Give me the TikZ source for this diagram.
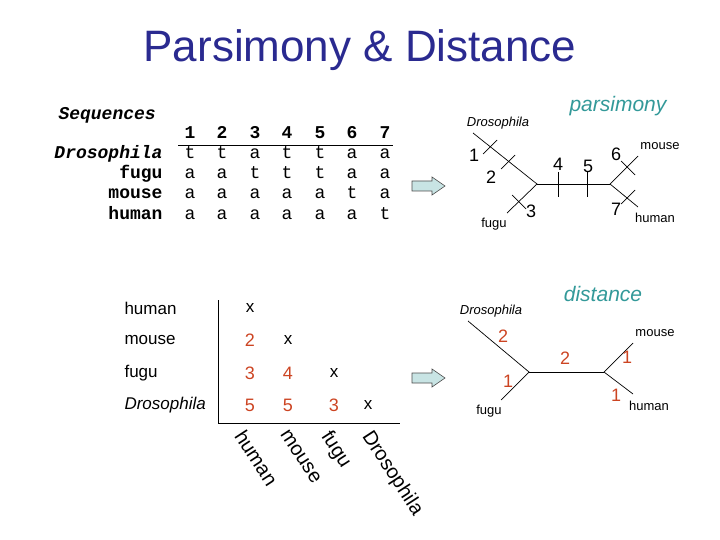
\documentclass[tikz,border=0pt]{standalone}
\usepackage{fontspec}
\setmainfont{Liberation Sans}
\newfontfamily\mono{Liberation Mono}
\definecolor{titleblue}{HTML}{2A2A90}
\definecolor{teal}{HTML}{339999}
\definecolor{dred}{HTML}{CC4422}
\definecolor{acyan}{HTML}{C8E4E4}
\begin{document}
\begin{tikzpicture}[x=1pt,y=-1pt,
  seq/.style={font=\mono\fontsize{18}{18}\selectfont,anchor=base},
  seqb/.style={font=\mono\bfseries\fontsize{18}{18}\selectfont,anchor=base},
  lab/.style={font=\fontsize{17}{17}\selectfont},
  tlab/.style={font=\fontsize{13}{13}\selectfont},
  num/.style={font=\fontsize{18}{18}\selectfont},
  rnum/.style={font=\fontsize{18}{18}\selectfont,text=dred},
  mtx/.style={font=\fontsize{17}{17}\selectfont},
  rot/.style={font=\fontsize{20}{20}\selectfont,rotate=-57,anchor=north west,inner sep=0pt},
  fat/.style={draw=black!70,fill=acyan,line width=0.6pt,line join=miter},
  tick/.style={line width=0.7pt}]
\useasboundingbox (0,0) rectangle (720,540);
\node[font=\fontsize{44}{44}\selectfont,text=titleblue] (title) at (360,50) {Parsimony \& Distance};
% sequences
\node[seqb,font=\mono\bfseries\itshape\fontsize{18}{18}\selectfont,anchor=base west] (seqh) at (55,120) {Sequences};
\node[seqb,font=\mono\bfseries\itshape\fontsize{18}{18}\selectfont,anchor=base east] (rD) at (166,159) {Drosophila};
\node[seqb,anchor=base east] (rf) at (166,179) {fugu};
\node[seqb,anchor=base east] (rm) at (166,199) {mouse};
\node[seqb,anchor=base east] (rh) at (166,219) {human};
\foreach \i/\x/\a/\b/\c/\d in {1/190/t/a/a/a,2/222/t/a/a/a,3/255/a/t/a/a,4/287/t/t/a/a,5/320/t/t/a/a,6/352/a/a/t/a,7/385/a/a/a/t}{
  \node[seqb] (c\i) at (\x,139) {\i};
  \node[seq] (d\i) at (\x,159) {\a};
  \node[seq] (f\i) at (\x,179) {\b};
  \node[seq] (m\i) at (\x,199) {\c};
  \node[seq] (h\i) at (\x,219) {\d};
}
\coordinate (sl1) at (178,145); \coordinate (sl2) at (393,145);
\draw[line width=0.8pt] (sl1) -- (sl2);
% arrows
\foreach \y in {186,378}{
  \draw[fat] (412,\y-5) -- (432,\y-5) -- (432,\y-9) -- (445,\y) -- (432,\y+9) -- (432,\y+5) -- (412,\y+5) -- cycle;
}
% parsimony tree
\node[font=\fontsize{21}{21}\selectfont\itshape,text=teal] (pars) at (618,106) {parsimony};
\node[tlab,font=\itshape\fontsize{13}{13}\selectfont] (pD) at (498,123) {Drosophila};
\node[tlab] (pf) at (494,224) {fugu};
\node[tlab] (pm) at (660,146) {mouse};
\node[tlab] (ph) at (655,218) {human};
\coordinate (pDe) at (473,133); \coordinate (pn1) at (537,184); \coordinate (pfe) at (507,213);
\coordinate (pn2) at (610,184); \coordinate (pme) at (638,156); \coordinate (phe) at (638,207);
\draw[tick] (pDe) -- (pn1) -- (pfe);
\draw[tick] (pn1) -- (pn2);
\draw[tick] (pme) -- (pn2) -- (phe);
\draw[tick] (483,154) -- (497,140);
\draw[tick] (501,169) -- (515,155);
\draw[tick] (512,195) -- (526,209);
\draw[tick] (558,172) -- (558,197);
\draw[tick] (587,172) -- (587,197);
\draw[tick] (621,161) -- (635,175);
\draw[tick] (621,204) -- (635,190);
\node[num] (n1) at (474,155) {1};
\node[num] (n2) at (491,177) {2};
\node[num] (n3) at (531,211) {3};
\node[num] (n4) at (558,164) {4};
\node[num] (n5) at (588,166) {5};
\node[num] (n6) at (616,154) {6};
\node[num] (n7) at (616,209) {7};
% distance matrix
\node[lab,anchor=west] (mh) at (121,308) {human};
\node[lab,anchor=west] (mm) at (121,340) {mouse};
\node[lab,anchor=west] (mf) at (121,373) {fugu};
\node[lab,anchor=west,font=\itshape\fontsize{17}{17}\selectfont] (mD) at (121,405) {Drosophila};
\node[mtx] (x1) at (250,308) {x};
\node[rnum] (v21) at (250,340) {2};
\node[mtx] (x2) at (288,340) {x};
\node[rnum] (v31) at (250,373) {3};
\node[rnum] (v32) at (288,373) {4};
\node[mtx] (x3) at (334,373) {x};
\node[rnum] (v41) at (250,405) {5};
\node[rnum] (v42) at (288,405) {5};
\node[rnum] (v43) at (334,405) {3};
\node[mtx] (x4) at (368,405) {x};
\coordinate (ml1) at (218,300); \coordinate (ml2) at (218,423); \coordinate (ml3) at (400,423);
\draw[line width=0.7pt] (ml1) -- (ml2) -- (ml3);
\node[rot] (lh) at (246,428) {human};
\node[rot] (lm) at (289,428) {mouse};
\node[rot] (lf) at (333,428) {fugu};
\node[rot] (lD) at (374,428) {Drosophila};
% distance tree
\node[font=\fontsize{21}{21}\selectfont\itshape,text=teal] (dist) at (603,294) {distance};
\node[tlab,font=\itshape\fontsize{13}{13}\selectfont] (dD) at (491,311) {Drosophila};
\node[tlab] (df) at (489,411) {fugu};
\node[tlab] (dm) at (655,333) {mouse};
\node[tlab] (dh) at (649,406) {human};
\coordinate (dDe) at (468,321); \coordinate (dn1) at (529,372); \coordinate (dfe) at (501,400);
\coordinate (dn2) at (604,372); \coordinate (dme) at (633,343); \coordinate (dhe) at (633,394);
\draw[tick] (dDe) -- (dn1) -- (dfe);
\draw[tick] (dn1) -- (dn2);
\draw[tick] (dme) -- (dn2) -- (dhe);
\node[rnum] (e1) at (503,336) {2};
\node[rnum] (e2) at (565,358) {2};
\node[rnum] (e3) at (508,381) {1};
\node[rnum] (e4) at (627,357) {1};
\node[rnum] (e5) at (616,395) {1};
\end{tikzpicture}
\end{document}
